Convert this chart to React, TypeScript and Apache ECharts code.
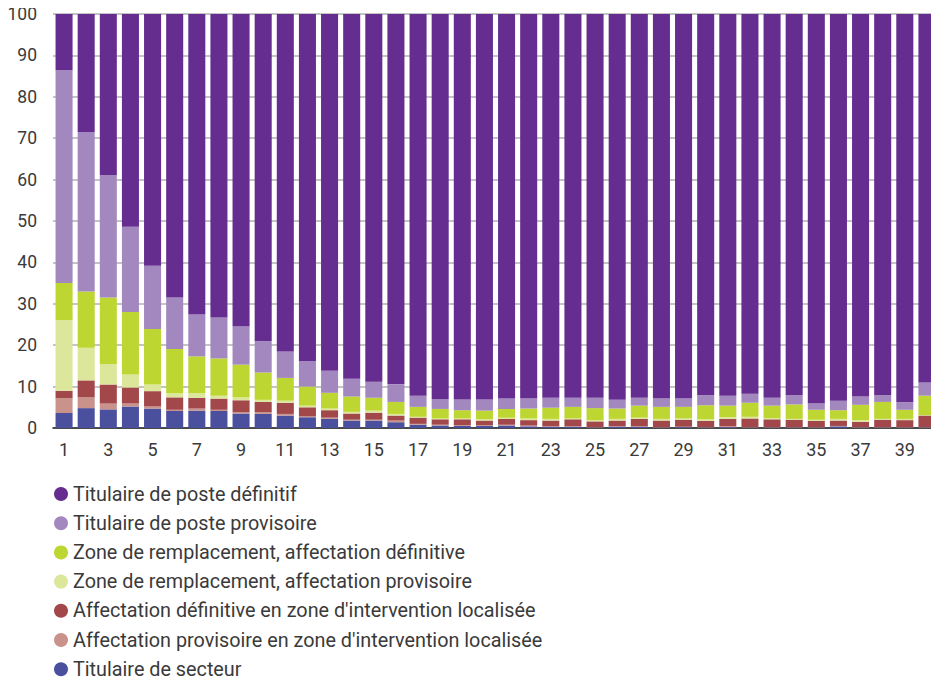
import React, { useEffect, useRef } from "react";
import * as echarts from "echarts";

const categories = Array.from({ length: 40 }, (_, i) => String(i + 1));

const seriesNames = [
  "Titulaire de secteur",
  "Affectation provisoire en zone d'intervention localisée",
  "Affectation définitive en zone d'intervention localisée",
  "Zone de remplacement, affectation provisoire",
  "Zone de remplacement, affectation définitive",
  "Titulaire de poste provisoire",
  "Titulaire de poste définitif",
];

const secteur = [3.6,4.8,4.5,5.2,4.7,4.1,4.2,4.1,3.5,3.4,3.0,2.6,2.2,1.8,1.8,1.4,0.8,0.6,0.5,0.5,0.6,0.4,0.3,0.3,0.1,0.3,0.3,0.1,0.2,0.1,0.2,0.1,0.1,0.1,0.1,0.4,0.1,0.1,0.1,0.1];
const provZIL = [3.6,2.6,1.4,0.7,0.5,0.3,0.5,0.3,0.3,0.4,0.4,0.2,0.3,0.2,0.2,0.4,0.2,0.2,0.2,0.2,0.2,0.2,0.1,0.1,0.1,0.1,0.1,0.1,0.1,0.1,0.2,0.1,0.1,0.1,0.1,0.1,0.1,0.1,0.1,0.1];
const defZIL = [1.8,4.1,4.6,3.9,3.7,3.0,2.6,2.7,2.9,2.5,2.7,2.2,1.8,1.5,1.7,1.2,1.5,1.3,1.4,1.1,1.4,1.3,1.4,1.7,1.4,1.4,1.8,1.6,1.7,1.5,1.8,2.1,1.9,1.8,1.5,1.3,1.3,1.8,1.7,2.8];
const zrProv = [17.0,7.9,4.9,3.1,1.6,1.0,1.1,0.7,0.7,0.5,0.5,0.4,0.4,0.4,0.5,0.4,0.2,0.2,0.2,0.3,0.3,0.4,0.4,0.2,0.3,0.4,0.3,0.4,0.3,0.4,0.4,0.4,0.3,0.2,0.3,0.4,0.4,0.2,0.3,0.1];
const zrDef = [9.0,13.6,16.1,15.1,13.4,10.7,8.9,9.0,7.9,6.6,5.5,4.6,3.8,3.7,3.1,2.9,2.4,2.3,2.0,2.1,2.1,2.4,2.7,2.8,2.9,2.5,2.9,2.9,2.8,3.4,2.8,3.4,3.0,3.5,2.4,2.1,3.7,4.1,2.2,4.7];
const posteProv = [51.5,38.5,29.6,20.6,15.3,12.4,10.1,9.9,9.3,7.6,6.4,6.2,5.3,4.3,3.9,4.3,2.7,2.4,2.6,2.7,2.5,2.4,2.4,2.2,2.5,2.1,1.9,2.0,2.0,2.4,2.4,2.2,1.9,2.3,1.6,2.3,2.0,1.7,1.8,3.2];
const posteDef = [13.5,28.5,38.9,51.4,60.8,68.5,72.6,73.3,75.4,79.0,81.5,83.8,86.2,88.1,88.8,89.4,92.2,93.0,93.1,93.1,92.9,92.9,92.7,92.7,92.7,93.2,92.7,92.9,92.9,92.1,92.2,91.7,92.7,92.0,94.0,93.4,92.4,92.0,93.8,89.0];

const seriesData = [secteur, provZIL, defZIL, zrProv, zrDef, posteProv, posteDef];
const colors = ["#4a4f9e", "#c9938c", "#a2474a", "#dde79c", "#bdd631", "#a288bf", "#652d8f"];

export default function App() {
  const ref = useRef<HTMLDivElement>(null);
  useEffect(() => {
    if (!ref.current) return;
    const chart = echarts.init(ref.current, null, { renderer: "svg" });
    const font = "Roboto";
    chart.setOption({
      animation: false,
      grid: { left: 53, right: 1, top: 14, bottom: 272 },
      legend: {
        orient: "vertical",
        left: 54,
        top: 484,
        padding: 0,
        icon: "circle",
        itemWidth: 14,
        itemHeight: 14,
        itemGap: 9.2,
        data: [...seriesNames].reverse(),
        textStyle: { fontFamily: font, fontSize: 19.8, lineHeight: 20, color: "#3a3a3a" },
      },
      xAxis: {
        type: "category",
        data: categories,
        axisLine: { lineStyle: { color: "#222", width: 1.5 } },
        axisTick: { show: false },
        axisLabel: { interval: 1, fontFamily: font, fontSize: 18, color: "#3a3a3a", margin: 12 },
      },
      yAxis: {
        type: "value",
        min: 0,
        max: 100,
        interval: 10,
        axisLine: { show: false },
        axisTick: { show: false },
        axisLabel: { fontFamily: font, fontSize: 17.5, color: "#3a3a3a", margin: 16 },
        splitLine: { lineStyle: { color: "#b0b0b0", width: 1.5 } },
      },
      series: seriesNames.map((name, i) => ({
        name,
        type: "bar",
        stack: "total",
        data: seriesData[i],
        barCategoryGap: "23%",
        itemStyle: { color: colors[i] },
      })),
    });
    return () => chart.dispose();
  }, []);
  return <div ref={ref} style={{ width: 939, height: 700, margin: -8 }} />;
}
